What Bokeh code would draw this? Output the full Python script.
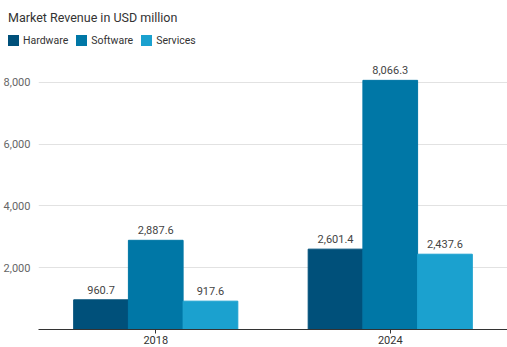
from bokeh.plotting import figure
from bokeh.layouts import column
from bokeh.models import (ColumnDataSource, FactorRange, Range1d, FixedTicker,
                          NumeralTickFormatter, Div)
from bokeh.transform import dodge
from bokeh.embed import file_html
from bokeh.resources import INLINE
from bokeh.core.properties import value

years = ["2018", "2024"]
hardware = [960.7, 2601.4]
software = [2887.6, 8066.3]
services = [917.6, 2437.6]
series_names = ["Hardware", "Software", "Services"]
colors = ["#00507a", "#0077a6", "#1ba1cf"]
y_ticks = [2000, 4000, 6000, 8000]
subtitle = "Market Revenue in USD million"

FONT = "Roboto"

# ---------- header: subtitle + legend ----------
items = "".join(
    f'<span style="display:inline-flex;align-items:center;margin-right:8px;">'
    f'<span style="display:inline-block;width:11px;height:11px;background:{c};'
    f'margin-right:4px;"></span>{n}</span>'
    for n, c in zip(series_names, colors))
html = (
    f'<div style="position:relative;width:507px;height:52px;font-family:{FONT};color:#333333;">'
    f'<div style="position:absolute;left:8px;top:10px;font-size:12.5px;line-height:15px;white-space:nowrap;">{subtitle}</div>'
    f'<div style="position:absolute;left:8px;top:34px;font-size:10.5px;line-height:13px;display:flex;white-space:nowrap;">{items}</div>'
    f'</div>')
head = Div(text=html, width=507, height=52, margin=0)

# ---------- main chart ----------
p = figure(width=507, height=295, output_backend="svg", toolbar_location=None,
           x_range=FactorRange(*years, range_padding=0),
           y_range=Range1d(0, 8968),
           min_border_left=38, min_border_right=0, min_border_top=0,
           min_border_bottom=18, margin=0)
p.outline_line_color = None

offsets = [-0.2333, 0.0, 0.2333]
data_series = [hardware, software, services]
for name, vals, off, col in zip(series_names, data_series, offsets, colors):
    src = ColumnDataSource(dict(year=years, val=vals,
                                lab=[f"{v:,.1f}" for v in vals]))
    p.vbar(x=dodge("year", off, range=p.x_range), top="val", width=0.2333,
           source=src, fill_color=col, line_color=col)
    p.text(x=dodge("year", off, range=p.x_range), y="val", text="lab", source=src,
           text_align="center", text_baseline="bottom", y_offset=-6,
           text_font=value(FONT), text_font_size="11px", text_color="#444444")

p.yaxis.ticker = FixedTicker(ticks=y_ticks)
p.yaxis.formatter = NumeralTickFormatter(format="0,0")
p.yaxis.axis_line_color = None
p.yaxis.major_tick_line_color = None
p.yaxis.minor_tick_line_color = None
p.yaxis.major_label_standoff = 2
p.yaxis.major_label_text_font = FONT
p.yaxis.major_label_text_font_size = "11px"
p.yaxis.major_label_text_color = "#666666"

p.xaxis.axis_line_color = "#333333"
p.xaxis.axis_line_width = 1
p.xaxis.major_tick_line_color = "#333333"
p.xaxis.major_tick_out = 4
p.xaxis.major_tick_in = 0
p.xaxis.minor_tick_line_color = None
p.xaxis.major_label_standoff = 2
p.xaxis.major_label_text_font = FONT
p.xaxis.major_label_text_font_size = "11px"
p.xaxis.major_label_text_color = "#333333"

p.xgrid.grid_line_color = None
p.ygrid.grid_line_color = "#e2e2e2"
p.ygrid.ticker = FixedTicker(ticks=y_ticks)

layout = column(head, p, spacing=0, margin=0)
open("out.html", "w").write(file_html(layout, INLINE))
